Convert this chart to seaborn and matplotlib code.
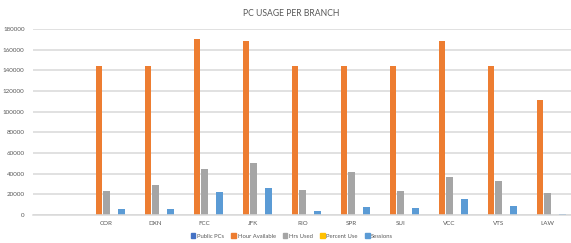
import pandas as pd
import matplotlib.pyplot as plt
import seaborn as sns

# data
branches = ["", "COR", "DXN", "FCC", "JFK", "RIO", "SPR", "SUI", "VCC", "VTS", "LAW"]
public_pcs = [0, 20, 20, 24, 24, 20, 20, 20, 24, 20, 16]
hour_available = [0, 144000, 144000, 170000, 168000, 144000, 144000, 144000, 168000, 144000, 111000]
hrs_used = [0, 23200, 28700, 44200, 50300, 24500, 41600, 23200, 36800, 33200, 21300]
percent_use = [0, 0.16, 0.20, 0.26, 0.30, 0.17, 0.29, 0.16, 0.22, 0.23, 0.19]
sessions = [0, 5500, 5800, 22000, 26400, 3900, 7700, 7100, 15500, 8400, 1300]

series = ["Public PCs", "Hour Available", "Hrs Used", "Percent Use", "Sessions"]
colors = ["#4472C4", "#ED7D31", "#A5A5A5", "#FFC000", "#5B9BD5"]
text_color = "#595959"
grid_color = "#D9D9D9"

df = pd.DataFrame({
    "Branch": branches,
    "Public PCs": public_pcs,
    "Hour Available": hour_available,
    "Hrs Used": hrs_used,
    "Percent Use": percent_use,
    "Sessions": sessions,
})
long_df = df.melt(id_vars="Branch", var_name="Series", value_name="Value")

sns.set_theme(style="white")
plt.rcParams['font.family'] = ['Lato', 'DejaVu Sans']

fig = plt.figure(figsize=(5.71, 2.43), dpi=100)
ax = fig.add_axes([33 / 571, 1 - 215 / 243, 539 / 571, (215 - 29) / 243])

sns.barplot(data=long_df, x="Branch", y="Value", hue="Series", order=branches,
            hue_order=series, palette=colors, width=0.765, gap=0.12,
            saturation=1, errorbar=None, ax=ax, legend=False, linewidth=0)

ax.set_ylim(0, 180000)
ax.set_xlim(-0.5, len(branches) - 0.5)
ax.set_yticks(range(0, 180001, 20000))
ax.set_xlabel("")
ax.set_ylabel("")
ax.grid(axis="y", color=grid_color, linewidth=1.1)
ax.set_axisbelow(True)
for side in ["top", "left", "right"]:
    ax.spines[side].set_visible(False)
ax.spines["bottom"].set_color(grid_color)
ax.spines["bottom"].set_linewidth(1.1)
ax.tick_params(axis="both", length=0, labelsize=4.5, labelcolor=text_color)
ax.tick_params(axis="y", pad=6)
ax.tick_params(axis="x", pad=4)

fig.text(0.51, 1 - 14 / 243, "PC USAGE PER BRANCH", ha="center", va="center",
         fontsize=6.2, color=text_color)

handles = [plt.Rectangle((0, 0), 1, 1, color=c) for c in colors]
fig.legend(handles, series, loc="center", bbox_to_anchor=(292 / 571, 1 - 236 / 243),
           ncol=5, frameon=False, fontsize=4.2, labelcolor=text_color,
           handlelength=0.8, handleheight=0.8, handletextpad=0.3, columnspacing=1.2)

fig.savefig("out.png", dpi=100)
